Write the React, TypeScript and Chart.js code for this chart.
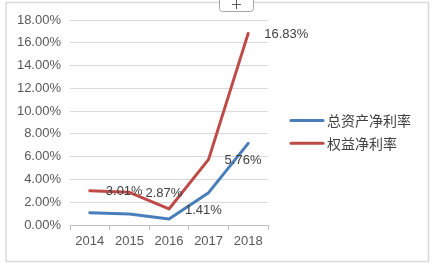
import React, { useEffect, useRef } from "react";
import { Chart, registerables } from "chart.js";

Chart.register(...registerables);

const years = ["2014", "2015", "2016", "2017", "2018"];
const totalAssetsROA = [1.08, 0.97, 0.53, 2.84, 7.17];
const equityROE = [3.01, 2.87, 1.41, 5.76, 16.83];
const seriesNames = ["总资产净利率", "权益净利率"];
const seriesColors = ["#4A7EBB", "#BE4B48"];
const yMax = 18;
const yStep = 2;

const frameAndButton = {
  id: "frameAndButton",
  beforeDraw(chart: any) {
    const ctx = chart.ctx;
    ctx.save();
    ctx.fillStyle = "#ffffff";
    ctx.fillRect(0, 0, chart.width, chart.height);
    ctx.strokeStyle = "#D9D9D9";
    ctx.lineWidth = 1.5;
    ctx.strokeRect(6, 2.5, 422.5, 259);
    ctx.restore();
  },
  afterDraw(chart: any) {
    const ctx = chart.ctx;
    ctx.save();
    // "+" button
    const x0 = 219.5, y0 = -4, w = 34, h = 15.5, r = 3;
    ctx.beginPath();
    ctx.moveTo(x0 + r, y0);
    ctx.lineTo(x0 + w - r, y0);
    ctx.quadraticCurveTo(x0 + w, y0, x0 + w, y0 + r);
    ctx.lineTo(x0 + w, y0 + h - r);
    ctx.quadraticCurveTo(x0 + w, y0 + h, x0 + w - r, y0 + h);
    ctx.lineTo(x0 + r, y0 + h);
    ctx.quadraticCurveTo(x0, y0 + h, x0, y0 + h - r);
    ctx.lineTo(x0, y0 + r);
    ctx.quadraticCurveTo(x0, y0, x0 + r, y0);
    ctx.closePath();
    ctx.fillStyle = "#ffffff";
    ctx.fill();
    ctx.strokeStyle = "#A6A6A6";
    ctx.lineWidth = 1;
    ctx.stroke();
    ctx.strokeStyle = "#595959";
    ctx.beginPath();
    ctx.moveTo(232, 4.5);
    ctx.lineTo(241, 4.5);
    ctx.moveTo(236.5, 0);
    ctx.lineTo(236.5, 9);
    ctx.stroke();

    // legend
    const ds = chart.data.datasets;
    ctx.font = "14px 'Noto Sans CJK SC', sans-serif";
    ctx.textBaseline = "middle";
    ctx.textAlign = "left";
    ds.forEach((d: any, i: number) => {
      const y = 120.5 + i * 22.7;
      ctx.strokeStyle = d.borderColor;
      ctx.lineWidth = 3;
      ctx.lineCap = "round";
      ctx.beginPath();
      ctx.moveTo(291, y);
      ctx.lineTo(323, y);
      ctx.stroke();
      ctx.fillStyle = "#404040";
      ctx.fillText(d.label, 327, y);
    });
    ctx.restore();
  },
};

const valueLabels = {
  id: "valueLabels",
  afterDatasetsDraw(chart: any) {
    const ctx = chart.ctx;
    const meta = chart.getDatasetMeta(1);
    const data = chart.data.datasets[1].data;
    ctx.save();
    ctx.font = "13px 'Liberation Sans', sans-serif";
    ctx.fillStyle = "#404040";
    ctx.textAlign = "left";
    ctx.textBaseline = "middle";
    meta.data.forEach((pt: any, i: number) => {
      ctx.fillText(Number(data[i]).toFixed(2) + "%", pt.x + 16, pt.y + 1);
    });
    ctx.restore();
  },
};

export default function App() {
  const ref = useRef<HTMLCanvasElement | null>(null);
  useEffect(() => {
    if (!ref.current) return;
    const chart = new Chart(ref.current, {
      type: "line",
      data: {
        labels: years,
        datasets: [
          {
            label: seriesNames[0],
            data: totalAssetsROA,
            borderColor: seriesColors[0],
            backgroundColor: seriesColors[0],
            borderWidth: 3,
            pointRadius: 0,
            tension: 0,
            borderJoinStyle: "round",
            borderCapStyle: "round",
          },
          {
            label: seriesNames[1],
            data: equityROE,
            borderColor: seriesColors[1],
            backgroundColor: seriesColors[1],
            borderWidth: 3,
            pointRadius: 0,
            tension: 0,
            borderJoinStyle: "round",
            borderCapStyle: "round",
          },
        ],
      },
      options: {
        responsive: false,
        animation: false,
        layout: { padding: { left: 0, top: 20, right: 168, bottom: 0 } },
        plugins: {
          legend: { display: false },
          tooltip: { enabled: false },
        },
        scales: {
          x: {
            offset: true,
            grid: {
              offset: true,
              drawOnChartArea: false,
              drawTicks: true,
              tickLength: 5,
              color: "#BFBFBF",
            },
            border: { display: true, color: "#BFBFBF" },
            ticks: {
              color: "#595959",
              font: { family: "'Liberation Sans', sans-serif", size: 13 },
              padding: 4,
              maxRotation: 0,
            },
            afterFit(scale: any) {
              scale.height = 43;
            },
          },
          y: {
            min: 0,
            max: yMax,
            grid: { color: "#D9D9D9", drawTicks: false },
            border: { display: false },
            ticks: {
              stepSize: yStep,
              color: "#595959",
              padding: 9,
              font: { family: "'Liberation Sans', sans-serif", size: 13 },
              callback: (v: any) => Number(v).toFixed(2) + "%",
            },
            afterFit(scale: any) {
              scale.width = 70;
            },
          },
        },
      },
      plugins: [frameAndButton, valueLabels],
    });
    return () => chart.destroy();
  }, []);
  return (
    <div style={{ position: "absolute", left: 0, top: 0, width: 436, height: 268 }}>
      <canvas ref={ref} width={436} height={268} style={{ display: "block" }} />
    </div>
  );
}
